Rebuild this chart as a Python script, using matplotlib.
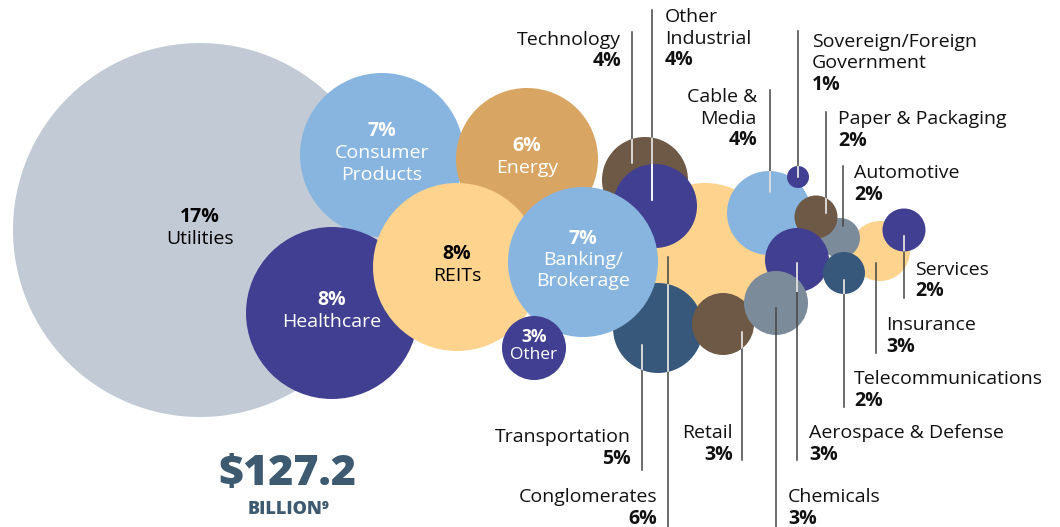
import matplotlib.pyplot as plt
from matplotlib.patches import Circle

# data
sectors = ['Utilities', 'Consumer\nProducts', 'Healthcare', 'Energy', 'REITs',
           'Conglomerates', 'Technology', 'Other\nIndustrial', 'Transportation',
           'Banking/\nBrokerage', 'Other', 'Retail', 'Cable &\nMedia',
           'Sovereign/Foreign\nGovernment', 'Insurance', 'Automotive',
           'Paper & Packaging', 'Services', 'Aerospace & Defense',
           'Telecommunications', 'Chemicals']
pcts = [17, 7, 8, 6, 8, 6, 4, 4, 5, 7, 3, 3, 4, 1, 3, 2, 2, 2, 3, 2, 3]
total = '$127.2'

# layout (pixel coords, y down): centre x, centre y, radius
bx = [200, 382, 332, 527, 457, 705, 645, 655, 658, 583, 534, 723, 769, 798, 880, 840, 816, 904, 797, 844, 776]
by = [230, 155, 313, 159, 267, 255, 180, 206, 328, 262, 348, 324, 213, 177, 251, 238, 217, 230, 260, 273, 303]
br = [187, 82, 86, 71, 84, 72, 43, 42, 45, 75, 32, 31, 42, 11, 30, 20, 21.5, 21.5, 32, 21, 32]

GRAY = '#c2cad6'
LBLUE = '#88b5e0'
GOLD = '#d9a563'
YEL = '#fdd38e'
NAVY = '#403f91'
BROWN = '#6e5846'
SLATE = '#37587a'
STEEL = '#7c8b9a'
colors = [GRAY, LBLUE, NAVY, GOLD, YEL, YEL, BROWN, NAVY, SLATE, LBLUE, NAVY,
          BROWN, LBLUE, NAVY, YEL, STEEL, BROWN, NAVY, NAVY, SLATE, STEEL]
white_lines = [c in (NAVY, BROWN, SLATE) for c in colors]
white_lines[sectors.index('Cable &\nMedia')] = True

# labels inside the bubble
inside = {'Utilities': 'k', 'Consumer\nProducts': 'w', 'Healthcare': 'w', 'Energy': 'w',
          'REITs': 'k', 'Banking/\nBrokerage': 'w', 'Other': 'w'}
# outside labels: text x, first line y, alignment, leader x, leader top, leader bottom
outside = {
    'Technology': (621, 40, 'right', 632, 32, 163),
    'Other\nIndustrial': (665, 17, 'left', 652, 10, 200),
    'Cable &\nMedia': (757, 97, 'right', 770, 90, 192),
    'Sovereign/Foreign\nGovernment': (812, 42, 'left', 798, 31, 177),
    'Paper & Packaging': (838, 119, 'left', 826, 112, 213),
    'Automotive': (854, 173, 'left', 843, 166, 226),
    'Services': (915, 270, 'left', 904, 236, 298),
    'Insurance': (886, 325, 'left', 876, 263, 353),
    'Telecommunications': (854, 379, 'left', 844, 280, 407),
    'Aerospace & Defense': (809, 433, 'left', 797, 263, 460),
    'Chemicals': (788, 497, 'left', 776, 308, 527),
    'Retail': (733, 433, 'right', 742, 332, 460),
    'Transportation': (631, 437, 'right', 642, 345, 470),
    'Conglomerates': (657, 497, 'right', 668, 257, 527),
}

plt.rcParams['font.family'] = ['Open Sans', 'DejaVu Sans']
fig = plt.figure(figsize=(10.6, 5.27), dpi=100)
ax = fig.add_axes([0, 0, 1, 1])
ax.set_xlim(0, 1060)
ax.set_ylim(527, 0)
ax.axis('off')

circles = []
for i in range(len(sectors)):
    c = Circle((bx[i], by[i]), br[i], facecolor=colors[i], edgecolor='none', zorder=1 + i * 0.01)
    ax.add_patch(c)
    circles.append(c)

# leader lines, grey outside and white on dark bubbles
for name, (tx, ty, ha, lx, y0, y1) in outside.items():
    ax.plot([lx, lx], [y0, y1], color='#444444', lw=1.1, zorder=2)
    for i, c in enumerate(circles):
        if white_lines[i]:
            ln, = ax.plot([lx, lx], [y0, y1], color='white', lw=1.1, zorder=2.1)
            ln.set_clip_path(c)

fs = 14
step = 21.5
for i, name in enumerate(sectors):
    p = f'{pcts[i]}%'
    if name in inside:
        col = inside[name]
        nlines = name.split('\n')
        if name == 'Other':
            fsi, st = 12.5, 18
        else:
            fsi, st = fs, step
        y = by[i] - len(nlines) * st / 2 - 2
        ax.text(bx[i], y, p, ha='center', va='center', fontsize=fsi, fontweight='bold', color=col, zorder=5)
        for k, t in enumerate(nlines):
            ax.text(bx[i], y + st * (k + 1), t, ha='center', va='center', fontsize=fsi, color=col, zorder=5)
    else:
        tx, ty, ha, lx, y0, y1 = outside[name]
        nlines = name.split('\n')
        for k, t in enumerate(nlines):
            ax.text(tx, ty + step * k, t, ha=ha, va='center', fontsize=fs, color='#111111', zorder=5)
        ax.text(tx, ty + step * len(nlines), p, ha=ha, va='center', fontsize=fs,
                fontweight='bold', color='#111111', zorder=5)

ax.text(287, 474, total, ha='center', va='center', fontsize=31, fontweight='heavy', color='#3d5a70')
ax.text(289, 510, 'BILLION\u2079', ha='center', va='center', fontsize=13, fontweight='heavy', color='#3d5a70')

fig.savefig('out.png', dpi=100)
